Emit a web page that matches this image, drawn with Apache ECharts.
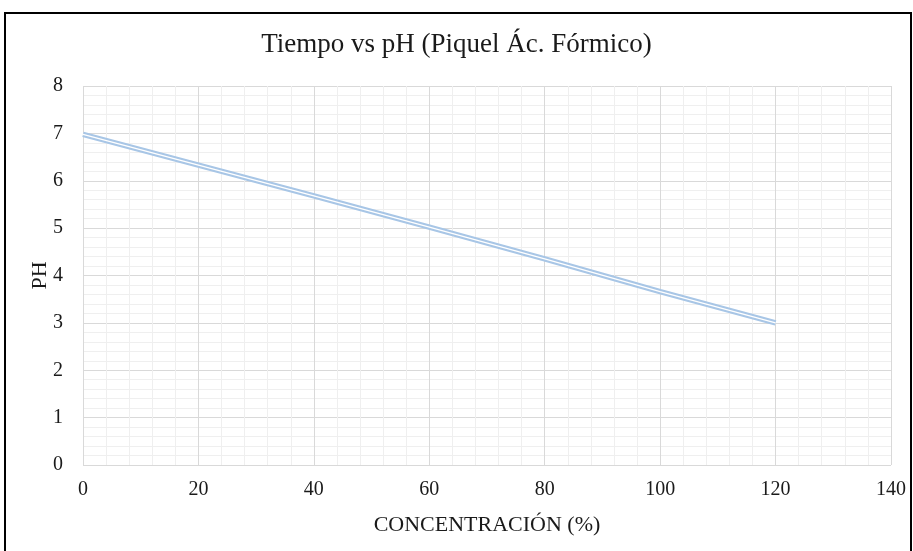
<!DOCTYPE html>
<html><head><meta charset="utf-8">
<script src="https://cdn.jsdelivr.net/npm/echarts@6/dist/echarts.min.js"></script>
<style>html,body{margin:0;padding:0;background:#fff}#c{width:913px;height:551px}</style>
</head><body><div id="c"></div>
<script>
const concentracion = [0, 20, 40, 60, 80, 100, 120];
const ph = [6.98, 6.33, 5.68, 5.02, 4.35, 3.66, 3.0];
const xTicks = [0, 140, 20];
const yTicks = [0, 8, 1];
const data = concentracion.map((x, i) => [x, ph[i]]);
const font = 'Liberation Serif';
const chart = echarts.init(document.getElementById('c'));
chart.setOption({
  animation: false,
  backgroundColor: '#fff',
  title: { text: 'Tiempo vs pH (Piquel Ác. Fórmico)', left: 'center', top: 26,
    textStyle: { fontFamily: font, fontSize: 27, fontWeight: 'normal', color: '#1a1a1a' } },
  graphic: [{ type: 'rect', shape: { x: 5, y: 13, width: 906, height: 560 }, silent: true,
    style: { fill: 'none', stroke: '#000', lineWidth: 2 } }],
  grid: { left: 83, right: 22, top: 86, bottom: 86 },
  xAxis: { type: 'value', min: xTicks[0], max: xTicks[1], interval: xTicks[2],
    name: 'CONCENTRACIÓN (%)', nameLocation: 'middle', nameGap: 49,
    nameTextStyle: { fontFamily: font, fontSize: 22, color: '#1a1a1a' },
    axisLine: { show: false }, axisTick: { show: false },
    axisLabel: { fontFamily: font, fontSize: 20, color: '#1a1a1a', margin: 15 },
    splitLine: { lineStyle: { color: '#d9d9d9', width: 1 } },
    minorTick: { show: false, splitNumber: 5 },
    minorSplitLine: { show: true, lineStyle: { color: '#efefef', width: 1 } } },
  yAxis: { type: 'value', min: yTicks[0], max: yTicks[1], interval: yTicks[2],
    name: 'PH', nameLocation: 'middle', nameGap: 32, nameRotate: 90, nameMoveOverlap: false,
    nameTextStyle: { fontFamily: font, fontSize: 22, color: '#1a1a1a' },
    axisLine: { show: false }, axisTick: { show: false },
    axisLabel: { fontFamily: font, fontSize: 20, color: '#1a1a1a', margin: 20 },
    splitLine: { lineStyle: { color: '#d9d9d9', width: 1 } },
    minorTick: { show: false, splitNumber: 5 },
    minorSplitLine: { show: true, lineStyle: { color: '#efefef', width: 1 } } },
  series: [
    { type: 'line', data: data, symbol: 'none', lineStyle: { color: '#a8c6e6', width: 5.5 }, z: 2 },
    { type: 'line', data: data, symbol: 'none', lineStyle: { color: '#ffffff', width: 1.4 }, z: 3 }
  ]
});
</script></body></html>
